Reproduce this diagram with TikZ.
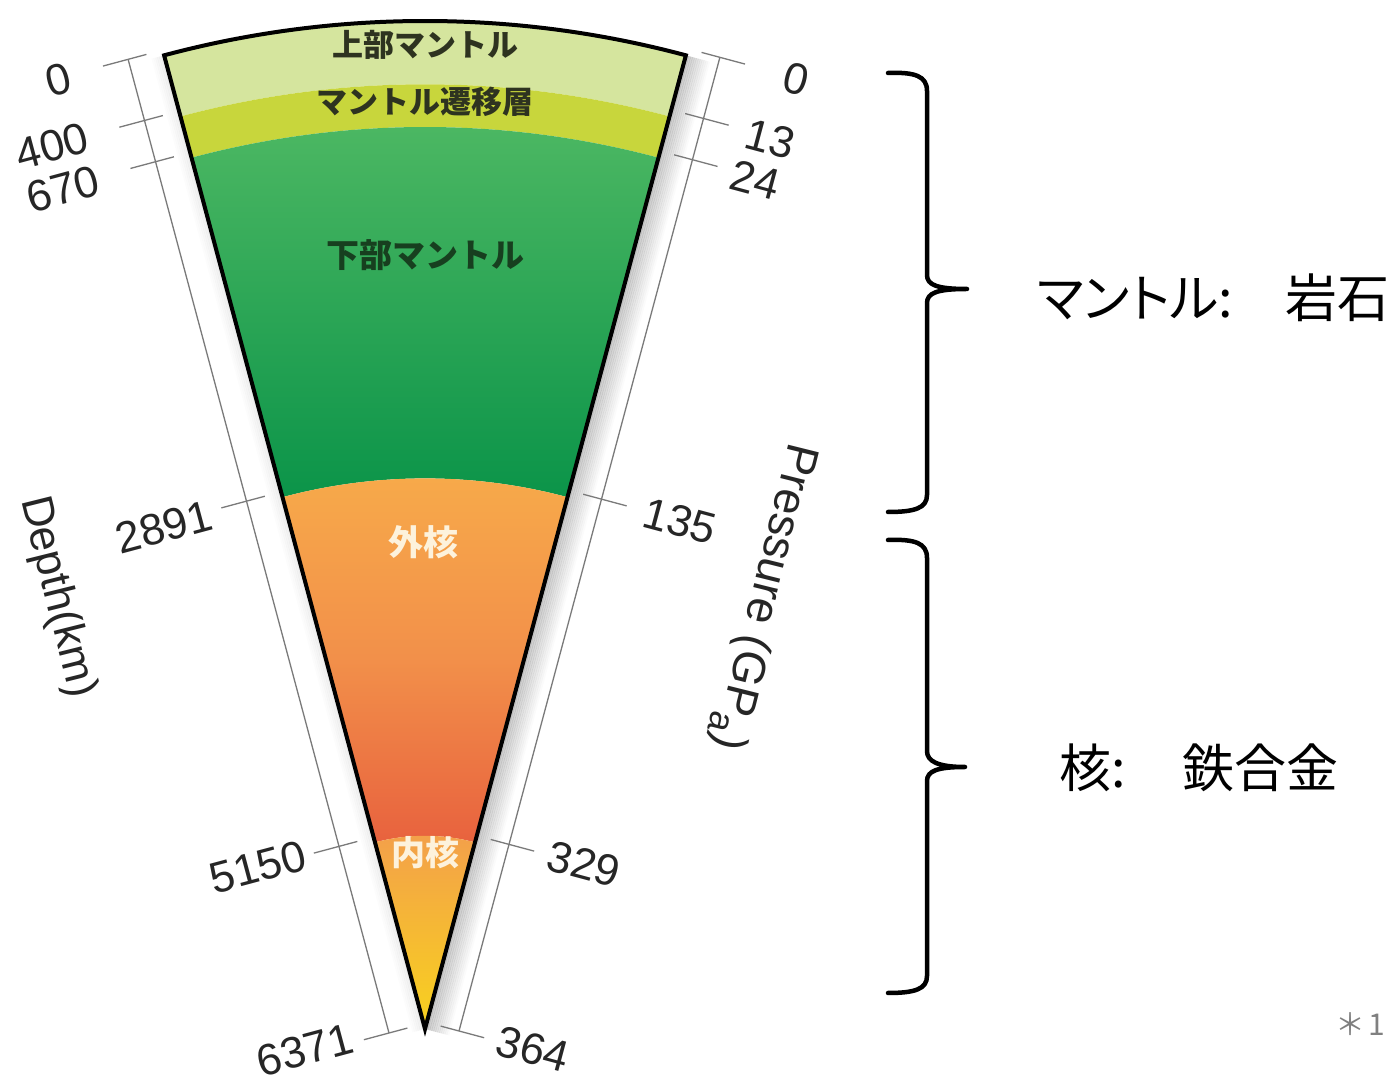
\documentclass[tikz,border=0pt]{standalone}
\usepackage{fontspec}
\setmainfont{Liberation Sans}
\newfontfamily\jp{Noto Sans CJK JP}
\newfontfamily\jpp{Noto Sans CJK JP}[RawFeature=+palt]
\usetikzlibrary{calc}

\definecolor{umantle}{HTML}{D5E59E}
\definecolor{tzone}{HTML}{C8D63C}
\definecolor{lmtop}{HTML}{4DB863}
\definecolor{lmbot}{HTML}{0B9449}
\definecolor{octop}{HTML}{F7AA4A}
\definecolor{ocmid}{HTML}{F2904A}
\definecolor{ocbot}{HTML}{E8623E}
\definecolor{ictop}{HTML}{F3A04A}
\definecolor{icbot}{HTML}{F8D21E}
\definecolor{scalegray}{HTML}{7A7A7A}
\definecolor{mantletext}{HTML}{2E3320}
\definecolor{lowertext}{HTML}{173F1F}
\definecolor{coretext}{HTML}{FDF2DC}

% annular sector of the wedge between two radii
\newcommand{\earthband}[3]{%
  \path[#1] ($(O)+(75:#2)$) -- ($(O)+(75:#3)$)
    arc[start angle=75,end angle=105,radius=#3]
    -- ($(O)+(105:#2)$)
    arc[start angle=105,end angle=75,radius=#2] -- cycle;}

\begin{document}
\begin{tikzpicture}[x=1pt,y=1pt,
  scaleline/.style={scalegray, line width=1.3pt},
  numlbl/.style={font=\fontsize{44}{44}\selectfont, text=black!85, inner sep=0pt},
  axislbl/.style={font=\fontsize{44}{44}\selectfont, text=black!85, inner sep=0pt},
  layerlbl/.style={font=\jp\bfseries\fontsize{31}{31}\selectfont, inner sep=0pt},
  corelbl/.style={font=\jp\bfseries\fontsize{35}{35}\selectfont, text=coretext, inner sep=0pt},
  bracestyle/.style={line width=4.5pt, line cap=round, line join=round},
  sidelbl/.style={font=\jpp\fontsize{52}{52}\selectfont, inner sep=0pt, anchor=west}]

\useasboundingbox (0,0) rectangle (1391,1081);
\fill[white] (0,0) rectangle (1391,1081);

% centre of the Earth and layer radii (depths 0, 400, 670, 2891, 5150 km)
\coordinate (O) at (425,52);
\def\rA{1008}
\def\rB{944.7}
\def\rC{902}
\def\rD{550.6}
\def\rE{193.2}

% soft shadow along the wedge sides
\foreach \k in {1,...,12} {
  \pgfmathsetmacro\op{0.22*(1-\k/13)}
  \draw[line width=2.2pt, black, opacity=\op]
    ($(O)+(75:\rA)+(-15:2*\k)$) -- ($(O)+(-15:2*\k)$);
}
\foreach \k in {1,...,6} {
  \pgfmathsetmacro\op{0.07*(1-\k/7)}
  \draw[line width=2.2pt, black, opacity=\op]
    ($(O)+(105:\rA)+(195:2*\k)$) -- ($(O)+(195:2*\k)$);
}

% layers
\earthband{fill=umantle}{\rB}{\rA}
\earthband{fill=tzone}{\rC}{\rB}
\earthband{top color=lmtop, bottom color=lmbot}{\rD}{\rC}
\earthband{top color=octop, bottom color=ocbot, middle color=ocmid}{\rE}{\rD}
\path[top color=ictop, bottom color=icbot] (O) -- ($(O)+(75:\rE)$)
  arc[start angle=75,end angle=105,radius=\rE] -- cycle;

% wedge outline
\draw[line width=4pt, line join=miter] ($(O)+(75:\rA)$)
  arc[start angle=75,end angle=105,radius=\rA] -- (O) -- cycle;

% depth scale (left)
\draw[scaleline] ($(O)+(105:\rA)+(-36,-4)$) -- ($(O)+(-36,-4)$);
\foreach \r in {\rA,\rB,\rC,\rD,\rE,0} {
  \draw[scaleline] ($(O)+(105:\r)+(-36,-4)+(195:26)$) -- ($(O)+(105:\r)+(-36,-4)+(15:19)$);
}
% pressure scale (right)
\draw[scaleline] ($(O)+(75:\rA)+(34,-2)$) -- ($(O)+(34,-2)$);
\foreach \r in {\rA,\rB,\rC,\rD,\rE,0} {
  \draw[scaleline] ($(O)+(75:\r)+(34,-2)+(-15:26)$) -- ($(O)+(75:\r)+(34,-2)+(165:19)$);
}

% depth values
\node[numlbl, rotate=15] (d0) at (58,1001) {0};
\node[numlbl, rotate=15] (d400) at (52,935) {400};
\node[numlbl, rotate=15] (d670) at (63,892) {670};
\node[numlbl, rotate=15] (d2891) at (164,554) {2891};
\node[numlbl, rotate=15] (d5150) at (258,214) {5150};
\node[numlbl, rotate=15] (d6371) at (305,31) {6371};
\node[axislbl, rotate=-76] (depth) at (57,484) {Depth(km)};

% pressure values
\node[numlbl, rotate=-15] (p0) at (796,1002) {0};
\node[numlbl, rotate=-15] (p13) at (770,942) {13};
\node[numlbl, rotate=-15] (p24) at (755,901) {24};
\node[numlbl, rotate=-15] (p135) at (680,560) {135};
\node[numlbl, rotate=-15] (p329) at (584,217) {329};
\node[numlbl, rotate=-15] (p364) at (533,32) {364};
\node[axislbl, rotate=-104, font=\fontsize{46}{46}\selectfont] (pressure) at (763,484)
  {Pressure (GP\raisebox{-0.22em}{\fontsize{36}{36}\selectfont a})};

% layer names
\node[layerlbl, text=mantletext] (um) at (425,1036) {上部マントル};
\node[layerlbl, text=mantletext] (tz) at (425,979) {マントル遷移層};
\node[layerlbl, text=lowertext, font=\jp\bfseries\fontsize{33}{33}\selectfont] (lm) at (425,826) {下部マントル};
\node[corelbl] (oc) at (423,539) {外核};
\node[corelbl, font=\jp\bfseries\fontsize{34}{34}\selectfont] (ic) at (425,228) {内核};

% braces
\draw[bracestyle] (888,1008) .. controls (915,1009) and (927,1005) .. (927,990)
  -- (927,806) .. controls (927,796) and (937,792) .. (967,792)
  .. controls (937,792) and (927,788) .. (927,778)
  -- (927,586) .. controls (927,573) and (915,569) .. (888,569);
\draw[bracestyle] (888,541) .. controls (915,542) and (927,538) .. (927,523)
  -- (927,330) .. controls (927,320) and (937,314) .. (965,314)
  .. controls (937,314) and (927,310) .. (927,300)
  -- (927,105) .. controls (927,92) and (915,88) .. (888,88);

% material labels
\node[sidelbl] (mantle) at (1037,783) {マントル:\hspace{1em}岩石};
\node[sidelbl] (core) at (1059,313) {核:\hspace{1.1em}鉄合金};

% footnote mark
\node[font=\jp\fontsize{30}{30}\selectfont, text=black!50, inner sep=0pt] (note) at (1360,57) {＊\hspace{3pt}1};
\end{tikzpicture}
\end{document}
